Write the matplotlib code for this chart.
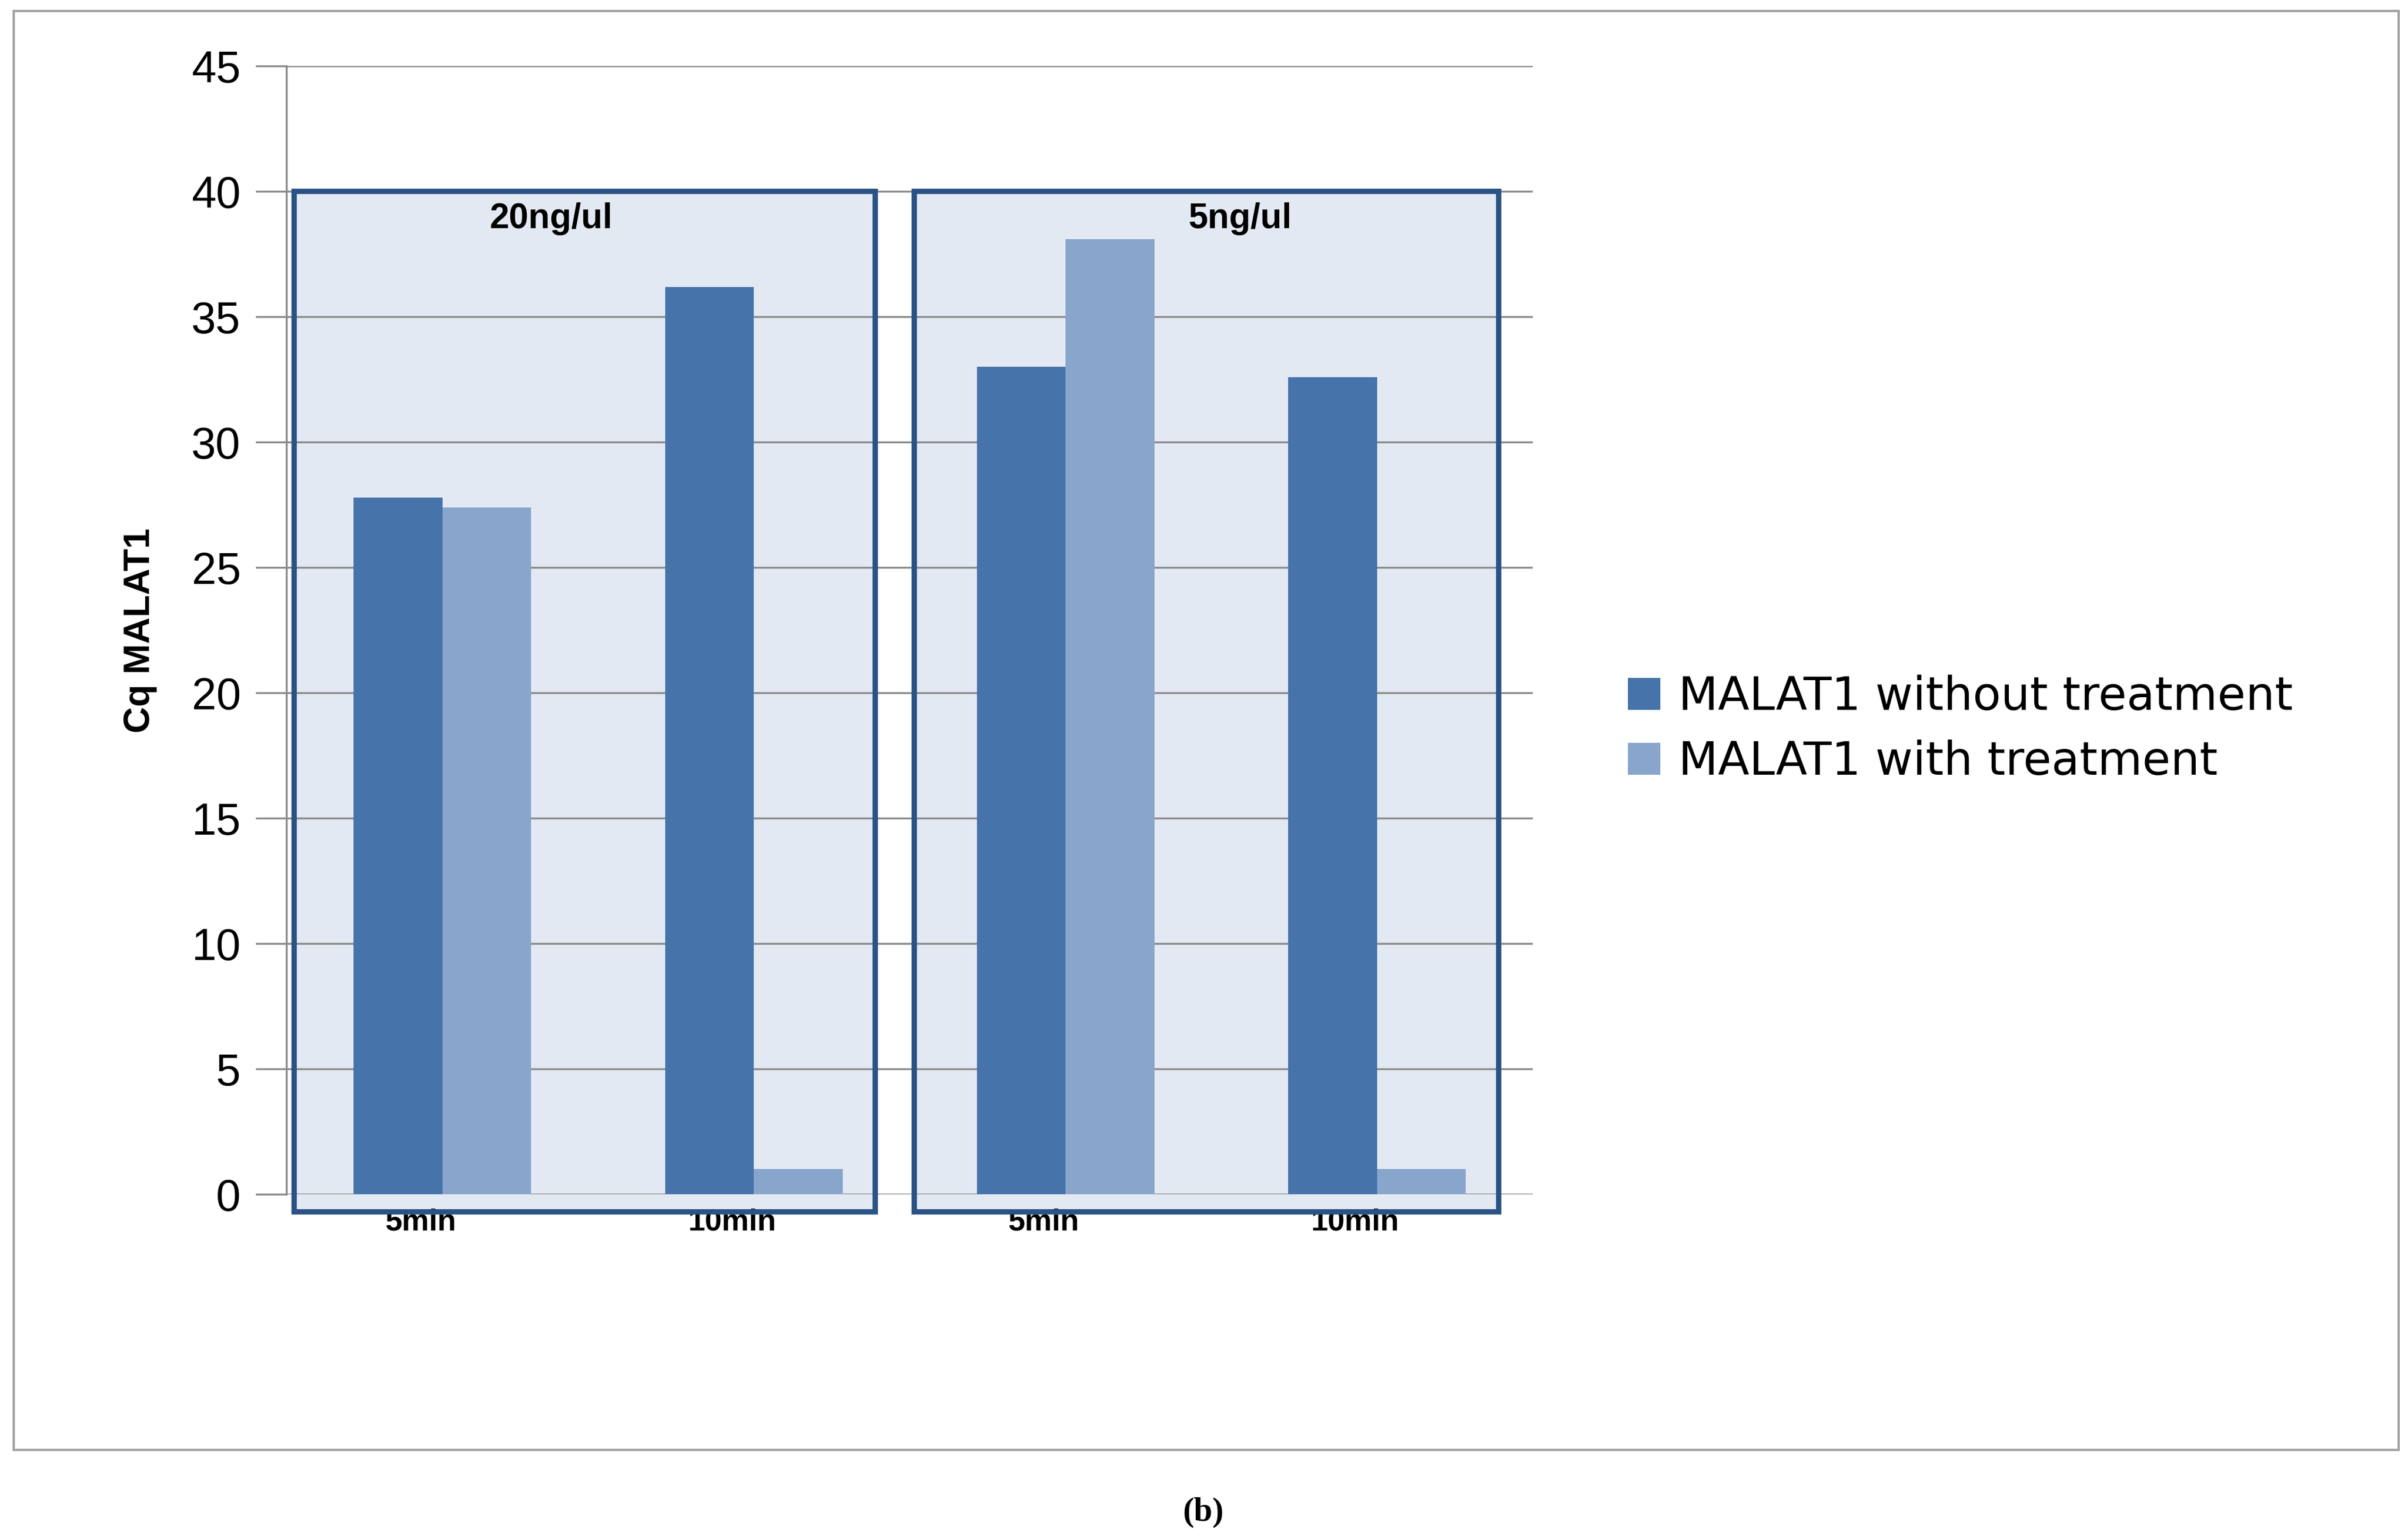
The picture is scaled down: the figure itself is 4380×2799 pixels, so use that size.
import matplotlib.pyplot as plt
from matplotlib.patches import Rectangle
import numpy as np

cats = ["5min", "10min", "5min", "10min"]
without = [27.8, 36.2, 33.0, 32.6]
withtr = [27.4, 1.0, 38.1, 1.0]
groups = ["20ng/ul", "5ng/ul"]

W, H = 1563.0, 1000.0
fig = plt.figure(figsize=(43.8, 27.99), dpi=100)
fig.patches.append(Rectangle((9/W, 1-942/H), 1548/W, 935/H, transform=fig.transFigure,
                             fill=False, ec="#a0a0a0", lw=3))
fig.text(781/W, 1-983/H, "(b)", ha="center", va="center", fontsize=44,
         family="Liberation Serif", fontweight="bold")

ax = fig.add_axes([186/W, 1-776/H, 809/W, 733/H])
x = np.arange(len(cats))
bw = 0.285
ax.set_xlim(-0.5, 3.5)
ax.set_ylim(0, 45)

# boxes behind
for x0, x1, t in [(-0.475, 1.39, groups[0]), (1.515, 3.39, groups[1])]:
    ax.add_patch(Rectangle((x0, -0.7), x1-x0, 40.7, fc="#e3e9f3", ec="none", zorder=0, clip_on=False))
    ax.add_patch(Rectangle((x0, -0.7), x1-x0, 40.7, fill=False, ec="#2a5285", lw=7, zorder=4, clip_on=False))
for xt, t in [(0.35, groups[0]), (2.56, groups[1])]:
    ax.text(xt, 38.9, t, ha="center", va="center", fontsize=46, fontweight="bold", zorder=5,
            family="Liberation Sans")

for yv in range(5, 50, 5):
    ax.axhline(yv, color="#8a8a8a", lw=2.5, zorder=1)
ax.axhline(0, color="#8a8a8a", lw=2.5, zorder=1)

ax.bar(x - bw/2, without, bw, color="#4674aa", zorder=2, label="MALAT1 without treatment")
ax.bar(x + bw/2, withtr, bw, color="#88a5cc", zorder=2, label="MALAT1 with treatment")

for s in ["top", "right", "bottom"]:
    ax.spines[s].set_visible(False)
ax.spines["left"].set_color("#8a8a8a")
ax.spines["left"].set_linewidth(2.5)
ax.set_yticks(range(0, 50, 5))
ax.tick_params(axis="y", labelsize=58, length=40, width=2.5, color="#8a8a8a", pad=20)
ax.set_yticklabels([str(v) for v in range(0, 50, 5)], family="Liberation Sans")
ax.set_xticks(x - 0.07)
ax.set_xticklabels(cats, fontsize=40, fontweight="bold", family="Liberation Sans")
ax.tick_params(axis="x", length=0, pad=18)
ax.set_ylabel("Cq MALAT1", fontsize=48, fontweight="bold", family="Liberation Sans", labelpad=45)
ax.set_facecolor("none")

fig.legend(loc="center left", bbox_to_anchor=(1030/W, 1-474/H), frameon=False,
           prop={"size": 60, "family": "DejaVu Sans"}, handlelength=0.7, handleheight=0.7,
           handletextpad=0.4, labelspacing=0.45)

fig.savefig("out.png", dpi=100)
